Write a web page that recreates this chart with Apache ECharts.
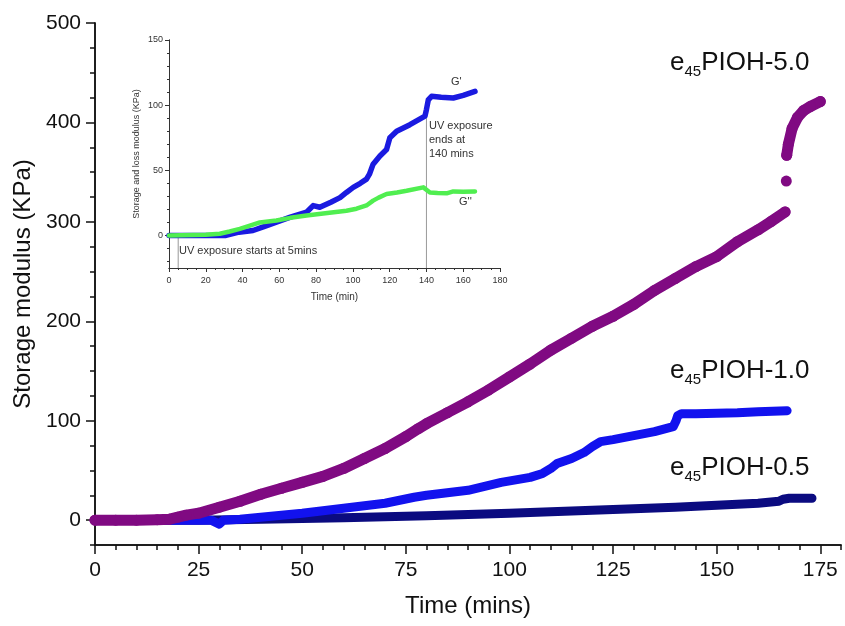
<!DOCTYPE html>
<html>
<head>
<meta charset="utf-8">
<script src="https://cdn.jsdelivr.net/npm/echarts@6/dist/echarts.min.js"></script>
<style>
  html, body { margin: 0; padding: 0; background: #fff; }
  #chart { width: 845px; height: 626px; }
</style>
</head>
<body>
<div id="chart"></div>
<script>
// main chart data [time (mins), storage modulus (KPa)]
const pioh50 = [[0,0],[5,0],[10,0],[15,0.5],[18,1],[20,3],[22,5],[25,7],[30,13],[35,19],[40,26],[45,32],[50,38],
  [55,44],[60,52],[65,62],[70,72],[75,84],[78,92],[80,97],[85,108],[90,119],[95,131],[100,144],[105,157],
  [110,171],[115,183],[120,195],[125,205],[130,217],[135,231],[140,243],[145,255],[150,265],[155,280],
  [160,292],[163,300],[166.5,310],null,[166.8,341],null,[166.9,367],[167.3,378],[168.2,394],[169.5,405],
  [171,412],[172.6,416],[175,421]];
const pioh10 = [[0,0],[10,0],[20,0],[28,0],[30,-4],[31,0],[35,1],[40,3],[50,7],[60,12],[70,17],[77,23],[80,25],
  [90,30],[98,38],[105,43],[108,47],[110,52],[111.5,57],[115,62],[118,68],[120,74],[122,79],[125,81],
  [130,85],[135,89],[139.5,94],[140.2,100],[140.6,105],[141.5,107],[145,107],[150,107.5],[155,108],
  [160,109],[167,110]];
const pioh05 = [[0,0],[25,0],[40,1],[60,2.5],[80,4.5],[100,7],[120,10],[140,13],[160,17],[165,19],[166,21],
  [167.5,22],[170,22],[173,22]];

// inset data [time (min), modulus (KPa)]
const gStorage = [[0,0],[20,0],[31,0],[38,2.5],[45.7,3.8],[52,7],[58.4,10.2],[66,14],[74.8,17.8],[78.4,22.9],
  [82,21.6],[88,25.5],[93,29],[96.5,33],[100.2,36.9],[104,40],[107.4,43.2],[109,47],[111,54.7],[114.7,61],
  [118.3,66],[120.1,75],[123.8,80],[131,85],[139.2,91.5],[140,96.6],[141,104],[142.8,106.8],[148,106],
  [154.6,105.5],[160,107.5],[166.4,110.6]];
const gLoss = [[0,0],[20,0.5],[27.6,1.3],[33,3],[38.5,5],[44,7.5],[49.4,10],[58.4,11.4],[66,13.5],[74.8,15.3],
  [85,17],[96.5,19],[102,20.5],[107.4,23],[111,26.7],[114,29],[118.3,31.8],[124,33],[129.2,34.3],
  [138.3,36.9],[141.9,33],[146,32.5],[151,32.3],[154.6,33.8],[160,33.5],[166.4,33.8]];
const uvStartLine = [[5,-25],[5,0]];
const uvEndLine = [[140,-25],[140,90]];

// ticks
const mainXLabels = [0,25,50,75,100,125,150,175];
const mainXMinor = [5,10,15,20,30,35,40,45,55,60,65,70,80,85,90,95,105,110,115,120,130,135,140,145,155,160,165,170,180];
const mainYLabels = [0,100,200,300,400,500];
const mainYMinor = [-25,25,50,75,125,150,175,225,250,275,325,350,375,425,450,475];
const insetXLabels = [0,20,40,60,80,100,120,140,160,180];
const insetXMinor = [5,10,15,25,30,35,45,50,55,65,70,75,85,90,95,105,110,115,125,130,135,145,150,155,165,170,175];
const insetYLabels = [0,50,100,150];
const insetYMinor = [-20,-10,10,20,30,40,60,70,80,90,110,120,130,140];

const chart = echarts.init(document.getElementById('chart'));
const font = 'Arial, "Liberation Sans", sans-serif';

function axisBase(extra, color, width) {
  return Object.assign({
    type: 'value',
    axisLine: { show: true, onZero: false, lineStyle: { color: color, width: width } },
    splitLine: { show: false }
  }, extra);
}

const option = {
  animation: false,
  backgroundColor: '#fff',
  textStyle: { fontFamily: font },
  grid: [
    { left: 95, right: 4, top: 23, bottom: 81 },
    { left: 169, top: 40, width: 331, height: 228 }
  ],
  xAxis: [
    axisBase({ gridIndex: 0, position: 'bottom', min: 0, max: 180, interval: 5,
      name: 'Time (mins)', nameLocation: 'middle', nameGap: 49,
      nameTextStyle: { fontSize: 24, color: '#111' },
      axisTick: { length: 9, customValues: mainXLabels, lineStyle: { color: '#111', width: 1.5 } },
      axisLabel: { fontSize: 21, color: '#111', margin: 15, customValues: mainXLabels } }, '#111', 1.5),
    axisBase({ gridIndex: 0, position: 'bottom', min: 0, max: 180, interval: 5,
      axisTick: { length: 5, customValues: mainXMinor, lineStyle: { color: '#111', width: 1.5 } },
      axisLabel: { show: false } }, '#111', 1.5),
    axisBase({ gridIndex: 1, position: 'bottom', min: 0, max: 180, interval: 5,
      name: 'Time (min)', nameLocation: 'middle', nameGap: 24,
      nameTextStyle: { fontSize: 10, color: '#333' },
      axisTick: { length: 4, customValues: insetXLabels, lineStyle: { color: '#333' } },
      axisLabel: { fontSize: 9, color: '#333', margin: 8, customValues: insetXLabels } }, '#333', 1),
    axisBase({ gridIndex: 1, position: 'bottom', min: 0, max: 180, interval: 5,
      axisTick: { length: 2, customValues: insetXMinor, lineStyle: { color: '#333' } },
      axisLabel: { show: false } }, '#333', 1)
  ],
  yAxis: [
    axisBase({ gridIndex: 0, position: 'left', min: -25, max: 500, interval: 25,
      name: 'Storage modulus (KPa)', nameLocation: 'middle', nameGap: 60,
      nameTextStyle: { fontSize: 24, color: '#111' },
      axisTick: { length: 9, customValues: mainYLabels, lineStyle: { color: '#111', width: 1.5 } },
      axisLabel: { fontSize: 21, color: '#111', margin: 14, customValues: mainYLabels } }, '#111', 1.5),
    axisBase({ gridIndex: 0, position: 'left', min: -25, max: 500, interval: 25,
      axisTick: { length: 5, customValues: mainYMinor, lineStyle: { color: '#111', width: 1.5 } },
      axisLabel: { show: false } }, '#111', 1.5),
    axisBase({ gridIndex: 1, position: 'left', min: -25, max: 150, interval: 25,
      name: 'Storage and loss modulus (KPa)', nameLocation: 'middle', nameGap: 28,
      nameTextStyle: { fontSize: 9, color: '#333' },
      axisTick: { length: 4, customValues: insetYLabels, lineStyle: { color: '#333' } },
      axisLabel: { fontSize: 9, color: '#333', margin: 6, customValues: insetYLabels } }, '#333', 1),
    axisBase({ gridIndex: 1, position: 'left', min: -25, max: 150, interval: 25,
      axisTick: { length: 2, customValues: insetYMinor, lineStyle: { color: '#333' } },
      axisLabel: { show: false } }, '#333', 1)
  ],
  series: [
    { type: 'line', xAxisIndex: 0, yAxisIndex: 0, data: pioh05, showSymbol: false,
      lineStyle: { color: '#0b0b80', width: 9, cap: 'round', join: 'round' } },
    { type: 'line', xAxisIndex: 0, yAxisIndex: 0, data: pioh10, showSymbol: false,
      lineStyle: { color: '#1212ee', width: 9, cap: 'round', join: 'round' } },
    { type: 'line', xAxisIndex: 0, yAxisIndex: 0, data: pioh50, showSymbol: true, showAllSymbol: true,
      connectNulls: false, symbol: 'circle', symbolSize: 11, itemStyle: { color: '#800a82' },
      lineStyle: { color: '#800a82', width: 11, cap: 'round', join: 'round' } },
    { type: 'line', xAxisIndex: 2, yAxisIndex: 2, data: uvStartLine, showSymbol: false,
      lineStyle: { color: '#999', width: 1 } },
    { type: 'line', xAxisIndex: 2, yAxisIndex: 2, data: uvEndLine, showSymbol: false,
      lineStyle: { color: '#999', width: 1 } },
    { type: 'line', xAxisIndex: 2, yAxisIndex: 2, data: gStorage, showSymbol: false,
      lineStyle: { color: '#1a1ae0', width: 5.5, cap: 'round', join: 'round' } },
    { type: 'line', xAxisIndex: 2, yAxisIndex: 2, data: gLoss, showSymbol: false,
      lineStyle: { color: '#50ee50', width: 4.5, cap: 'round', join: 'round' } }
  ],
  graphic: [
    { type: 'text', left: 670, top: 50, style: { text: '{m|e}{s|45}{m|PIOH-5.0}', rich: {
      m: { fontSize: 26, fontFamily: font, fill: '#111' }, s: { fontSize: 15, fontFamily: font, fill: '#111', padding: [18, 0, 0, 0] } } } },
    { type: 'text', left: 670, top: 358, style: { text: '{m|e}{s|45}{m|PIOH-1.0}', rich: {
      m: { fontSize: 26, fontFamily: font, fill: '#111' }, s: { fontSize: 15, fontFamily: font, fill: '#111', padding: [18, 0, 0, 0] } } } },
    { type: 'text', left: 670, top: 455, style: { text: '{m|e}{s|45}{m|PIOH-0.5}', rich: {
      m: { fontSize: 26, fontFamily: font, fill: '#111' }, s: { fontSize: 15, fontFamily: font, fill: '#111', padding: [18, 0, 0, 0] } } } },
    { type: 'text', left: 179, top: 245, style: { text: 'UV exposure starts at 5mins', fontSize: 11, fontFamily: font, fill: '#333' } },
    { type: 'text', left: 429, top: 119, style: { text: 'UV exposure\nends at\n140 mins', fontSize: 11, lineHeight: 14, fontFamily: font, fill: '#333' } },
    { type: 'text', left: 451, top: 76, style: { text: "G'", fontSize: 11, fontFamily: font, fill: '#333' } },
    { type: 'text', left: 459, top: 196, style: { text: "G''", fontSize: 11, fontFamily: font, fill: '#333' } }
  ]
};

chart.setOption(option);
</script>
</body>
</html>
